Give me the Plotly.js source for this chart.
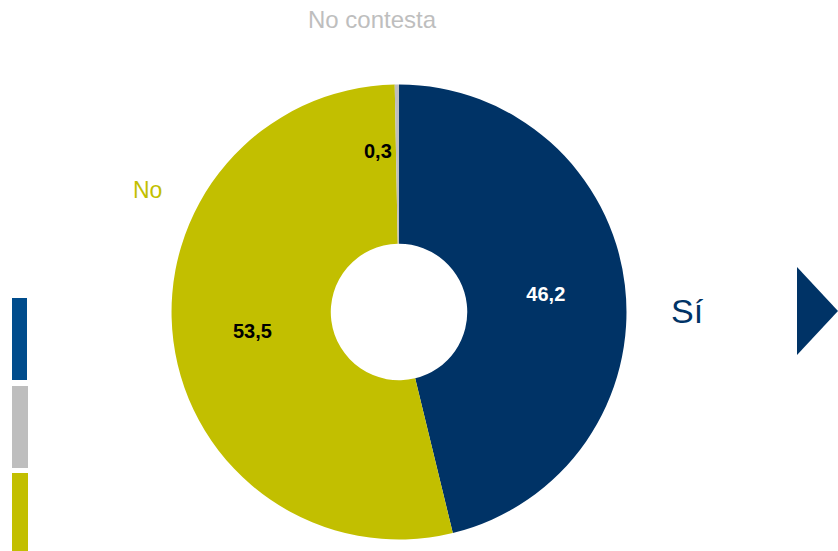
<!DOCTYPE html>
<html><head><meta charset="utf-8">
<script src="https://cdn.plot.ly/plotly-3.0.1.min.js"></script>
<style>html,body{margin:0;padding:0;background:#fff}#chart{width:838px;height:551px}</style>
</head><body><div id="chart"></div>
<script>
const labels = ['Sí', 'No', 'No contesta'];
const values = [46.2, 53.5, 0.3];
const colors = ['#003366', '#C2BF00', '#BEBEBE'];
const textColors = ['#FFFFFF', '#000000', '#000000'];

const fmt = v => v.toFixed(1).replace('.', ',');

const trace = {
  type: 'pie',
  labels: labels,
  values: values,
  sort: false,
  direction: 'clockwise',
  rotation: 0,
  hole: 0.3,
  marker: {colors: colors, line: {width: 0}},
  texttemplate: '<b>%{value:.1f}</b>',
  textposition: ['inside', 'inside', 'none'],
  insidetextorientation: 'horizontal',
  textfont: {family: 'Liberation Sans, Arial, sans-serif', size: 20, color: textColors},
  domain: {x: [0.2047, 0.7476], y: [0.0209, 0.8466]},
  showlegend: false,
  hoverinfo: 'label+value'
};

const layout = {
  width: 838, height: 551,
  margin: {l: 0, r: 0, t: 0, b: 0},
  paper_bgcolor: '#fff',
  separators: ',.',
  font: {family: 'Liberation Sans, Arial, sans-serif'},
  shapes: [
    {type: 'rect', xref: 'paper', yref: 'paper', x0: 12/838, x1: 27/838, y0: 1-380/551, y1: 1-298/551, fillcolor: '#004C8C', line: {width: 0}},
    {type: 'rect', xref: 'paper', yref: 'paper', x0: 12/838, x1: 28/838, y0: 1-468/551, y1: 1-386/551, fillcolor: '#BEBEBE', line: {width: 0}},
    {type: 'rect', xref: 'paper', yref: 'paper', x0: 12/838, x1: 28/838, y0: 0, y1: 1-473/551, fillcolor: '#C2BF00', line: {width: 0}},
    {type: 'path', xref: 'paper', yref: 'paper',
     path: 'M ' + (797/838) + ' ' + (1-267/551) + ' L 1 ' + (1-311/551) + ' L ' + (797/838) + ' ' + (1-355/551) + ' Z',
     fillcolor: '#003366', line: {width: 0}}
  ],
  annotations: [
    {text: labels[0], xref: 'paper', yref: 'paper', x: 687/838, y: 1-311/551, showarrow: false,
     font: {size: 34, color: '#003366'}, xanchor: 'center', yanchor: 'middle'},
    {text: labels[1], xref: 'paper', yref: 'paper', x: 147/838, y: 1-190/551, showarrow: false,
     font: {size: 23, color: '#C2BF00'}, xanchor: 'center', yanchor: 'middle'},
    {text: labels[2], xref: 'paper', yref: 'paper', x: 372/838, y: 1-20/551, showarrow: false,
     font: {size: 24, color: '#BEBEBE'}, xanchor: 'center', yanchor: 'middle'},
    {text: '<b>' + fmt(values[2]) + '</b>', xref: 'paper', yref: 'paper', x: 378/838, y: 1-151/551, showarrow: false,
     font: {size: 20, color: '#000000'}, xanchor: 'center', yanchor: 'middle'}
  ]
};

Plotly.newPlot('chart', [trace], layout, {displayModeBar: false, staticPlot: true});
</script>
</body></html>
